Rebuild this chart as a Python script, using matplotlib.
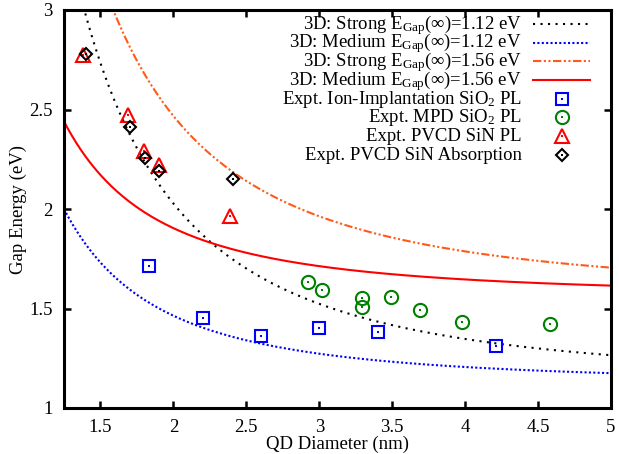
import numpy as np
import matplotlib
matplotlib.use("Agg")
import matplotlib.pyplot as plt

plt.rcParams['font.family'] = ['Liberation Serif', 'DejaVu Serif']
plt.rcParams['mathtext.fontset'] = 'custom'
plt.rcParams['mathtext.rm'] = 'Liberation Serif'
plt.rcParams['mathtext.it'] = 'Liberation Serif:italic'
plt.rcParams['font.size'] = 13.5

# measured gap energies (nm, eV)
ion_d = [1.83, 2.20, 2.60, 3.00, 3.40, 4.21]
ion_e = [1.715, 1.452, 1.363, 1.403, 1.383, 1.313]
mpd_d = [2.92, 3.02, 3.29, 3.29, 3.49, 3.69, 3.98, 4.58]
mpd_e = [1.635, 1.593, 1.551, 1.506, 1.556, 1.49, 1.43, 1.42]
pl_d = [1.38, 1.69, 1.80, 1.90, 2.385]
pl_e = [2.775, 2.47, 2.29, 2.22, 1.966]
abs_d = [1.40, 1.70, 1.805, 1.90, 2.41]
abs_e = [2.777, 2.41, 2.255, 2.19, 2.15]

# confinement model E = Eg(inf) + C / d^2
eg_bulk = [1.12, 1.56]
c_strong = 3.63
c_medium = 1.375

d = np.linspace(1.25, 5.0, 400)

fig = plt.figure(figsize=(6.19, 4.54), dpi=100)
ax = fig.add_axes([64 / 619, 46 / 454, 547 / 619, 398 / 454])

orange = '#ff5a1a'
curves = [
    (eg_bulk[0], c_strong, 'black', (0, (1, 2.6)), 'Strong'),
    (eg_bulk[0], c_medium, '#0000ff', (0, (1, 1.1)), 'Medium'),
    (eg_bulk[1], c_strong, orange, (0, (4, 1.2, 1, 1.2, 1, 1.2)), 'Strong'),
    (eg_bulk[1], c_medium, '#ff0000', '-', 'Medium'),
]
labels = []
for eg, c, col, ls, kind in curves:
    ax.plot(d, eg + c / d ** 2, color=col, ls=ls, lw=1.5)
    labels.append((r'3D: %s E$_{\mathrm{Gap}}$(∞)=%.2f eV' % (kind, eg), col, ls, None))

pts = [
    (ion_d, ion_e, '#0000ff', 's', 9, r'Expt. Ion-Implantation SiO$_2$ PL'),
    (mpd_d, mpd_e, '#008000', 'o', 9.5, r'Expt. MPD SiO$_2$ PL'),
    (pl_d, pl_e, '#ff0000', '^', 9.5, 'Expt. PVCD SiN PL'),
    (abs_d, abs_e, 'black', 'D', 6.2, 'Expt. PVCD SiN Absorption'),
]
for xs, ys, col, m, ms, lab in pts:
    ax.plot(xs, ys, ls='none', marker=m, ms=ms, mfc='none', mec=col, mew=1.5)
    ax.plot(xs, ys, ls='none', marker='s', ms=1.6, mfc=col, mec=col, mew=0)
    labels.append((lab, col, None, (m, ms)))

# key drawn in the top right corner
for i, (lab, col, ls, mk) in enumerate(labels):
    row = 24 + 18.65 * i
    yy = (408 - row) / 398
    ax.text(0.837, (408 - row - 5) / 398, lab, transform=ax.transAxes,
            ha='right', va='baseline', fontsize=13.5)
    if mk is None:
        ax.plot([0.857, 0.962], [yy, yy], transform=ax.transAxes, color=col,
                ls=ls, lw=1.5, clip_on=False)
    else:
        ax.plot([0.910], [yy], transform=ax.transAxes, ls='none', marker=mk[0],
                ms=mk[1], mfc='none', mec=col, mew=1.5, clip_on=False)
        ax.plot([0.910], [yy], transform=ax.transAxes, ls='none', marker='s',
                ms=1.6, mfc=col, mec=col, mew=0, clip_on=False)

ax.set_xlim(1.25, 5)
ax.set_ylim(1, 3)
ax.set_xticks([1.5, 2, 2.5, 3, 3.5, 4, 4.5, 5])
ax.set_xticklabels(['1.5', '2', '2.5', '3', '3.5', '4', '4.5', '5'])
ax.set_yticks([1, 1.5, 2, 2.5, 3])
ax.set_yticklabels(['1', '1.5', '2', '2.5', '3'])
ax.tick_params(direction='in', length=5, width=1.8, top=True, right=True,
               labelsize=13.5, pad=8)
for s in ax.spines.values():
    s.set_linewidth(2.2)

ax.set_xlabel('QD Diameter (nm)', fontsize=13.5, labelpad=0)
ax.set_ylabel('Gap Energy (eV)', fontsize=13.5, labelpad=2)

fig.savefig('out.png', dpi=100)
